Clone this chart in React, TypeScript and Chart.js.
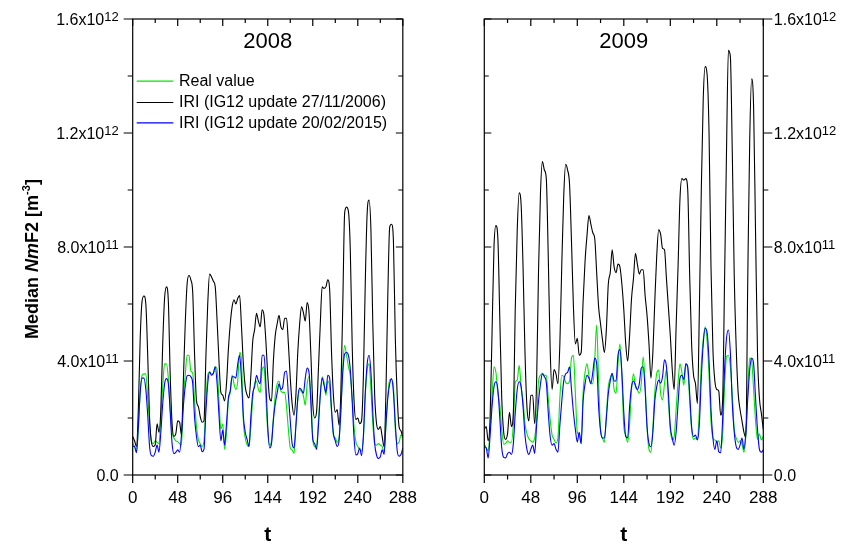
import React, { useEffect, useRef } from 'react';
import { Chart, registerables } from 'chart.js';

Chart.register(...registerables);

const FONT = '"Liberation Sans", Arial, Helvetica, sans-serif';

// hour index t (every 2 hours, 12 monthly median days x 24 h)
const T_HOURS = [
  0, 2, 4, 6, 8, 10, 12, 14, 16, 18, 20, 22,
  24, 26, 28, 30, 32, 34, 36, 38, 40, 42, 44, 46,
  48, 50, 52, 54, 56, 58, 60, 62, 64, 66, 68, 70,
  72, 74, 76, 78, 80, 82, 84, 86, 88, 90, 92, 94,
  96, 98, 100, 102, 104, 106, 108, 110, 112, 114, 116, 118,
  120, 122, 124, 126, 128, 130, 132, 134, 136, 138, 140, 142,
  144, 146, 148, 150, 152, 154, 156, 158, 160, 162, 164, 166,
  168, 170, 172, 174, 176, 178, 180, 182, 184, 186, 188, 190,
  192, 194, 196, 198, 200, 202, 204, 206, 208, 210, 212, 214,
  216, 218, 220, 222, 224, 226, 228, 230, 232, 234, 236, 238,
  240, 242, 244, 246, 248, 250, 252, 254, 256, 258, 260, 262,
  264, 266, 268, 270, 272, 274, 276, 278, 280, 282, 284, 286,
  288,
];

const X_TICKS = [0, 24, 48, 72, 96, 120, 144, 168, 192, 216, 240, 264, 288];
const X_LABEL_STEP = 48;
const Y_TICKS = [0, 2e11, 4e11, 6e11, 8e11, 1e12, 1.2e12, 1.4e12, 1.6e12];
const Y_LABEL_VALUES = [0, 4e11, 8e11, 1.2e12, 1.6e12];
const Y_LABEL_MANTISSA = ['0.0', '4.0x10', '8.0x10', '1.2x10', '1.6x10'];
const Y_LABEL_EXP = ['', '11', '11', '12', '12'];
const UNIT = 1e11; // series below are in units of 1e11 m^-3

const SERIES_NAMES = ['Real value', 'IRI (IG12 update 27/11/2006)', 'IRI (IG12 update 20/02/2015)'];
const SERIES_COLORS = ['#00e600', '#000000', '#0000ff'];
const SERIES_ORDER = [3, 2, 1];
const YEARS = ['2008', '2009'];

// ---- 2008 ----
const REAL_2008 = [
  1.1, 1.0, 0.8, 1.6, 2.9, 3.5, 3.55, 3.55, 2.7, 1.8, 1.17, 1.1,
  1.2, 1.15, 1.1, 2.0, 3.1, 3.9, 3.9, 3.4, 2.3, 1.5, 1.3, 1.2,
  1.17, 1.1, 1.05, 2.7, 3.5, 4.2, 4.2, 3.65, 3.57, 2.6, 1.7, 1.25,
  1.1, 1.0, 1.2, 2.5, 3.5, 3.6, 3.55, 3.55, 3.8, 3.7, 2.6, 1.6,
  1.8, 0.9, 1.5, 2.6, 2.9, 3.5, 3.2, 3.0, 3.3, 4.3, 4.0, 1.9,
  1.3, 1.05, 1.0, 1.7, 2.7, 3.2, 3.3, 3.0, 2.9, 3.7, 3.8, 2.7,
  1.5, 1.05, 1.2, 2.0, 2.8, 3.2, 3.3, 2.95, 2.9, 2.9, 2.4, 1.6,
  0.95, 0.88, 0.76, 1.8, 2.6, 3.0, 2.92, 2.78, 2.45, 3.2, 3.45, 2.8,
  1.3, 1.0, 1.0, 1.9, 2.8, 3.45, 3.25, 2.8, 3.3, 3.1, 2.2, 1.4,
  1.3, 1.15, 1.3, 2.3, 3.8, 4.55, 4.2, 3.8, 3.5, 2.7, 1.7, 1.15,
  1.0, 0.9, 0.85, 1.3, 2.8, 3.7, 3.9, 3.0, 1.8, 1.1, 1.05, 1.1,
  1.05, 1.0, 0.8, 1.7, 2.8, 3.35, 3.35, 3.1, 1.6, 1.1, 1.15, 1.4,
  1.35,
];
const IRI06_2008 = [
  1.35, 1.2, 1.0, 2.3, 4.8, 6.1, 6.28, 6.0, 4.2, 2.0, 1.15, 1.0,
  1.05, 1.8, 1.5, 2.3, 4.6, 6.2, 6.6, 6.1, 3.5, 1.8, 1.35, 1.45,
  1.9, 1.85, 1.4, 3.3, 5.3, 6.7, 7.0, 6.85, 6.4, 4.2, 2.6, 2.4,
  2.05, 1.85, 1.9, 4.1, 6.0, 7.05, 6.95, 6.8, 6.6, 5.4, 4.0, 2.9,
  2.8, 2.6, 3.2, 4.4, 5.3, 5.9, 6.15, 6.0, 6.2, 6.3, 5.2, 3.9,
  3.1, 2.8, 2.7, 3.5, 4.7, 5.1, 5.67, 5.4, 5.2, 5.8, 5.6, 4.7,
  3.5, 2.7, 2.6, 4.0, 4.9, 5.3, 5.6, 5.2, 5.1, 5.5, 5.5, 4.6,
  3.4, 2.5, 2.1, 2.8, 4.3, 5.3, 5.9, 5.7, 5.4, 6.05, 5.7, 4.2,
  2.5, 2.0, 2.2, 3.7, 5.3, 6.6, 6.55, 6.6, 6.85, 6.5, 4.3, 2.8,
  2.2, 2.3, 1.75, 3.0, 6.0, 9.2, 9.4, 9.25, 7.9, 4.6, 2.6, 1.95,
  2.0, 1.8, 1.9, 3.5, 6.8, 9.2, 9.65, 8.6, 5.3, 2.8, 1.8, 1.6,
  1.7, 1.35, 1.0, 2.9, 6.3, 8.7, 8.8, 8.2, 4.8, 2.8, 1.7, 1.55,
  1.3,
];
const IRI15_2008 = [
  1.0, 1.0, 0.78, 1.7, 2.9, 3.4, 3.4, 3.0, 2.1, 1.0, 0.68, 0.66,
  0.8, 1.05, 0.8, 1.5, 2.5, 3.2, 3.38, 3.2, 2.2, 1.1, 0.75, 0.8,
  0.88, 0.8, 1.4, 2.4, 3.1, 3.48, 3.5, 3.45, 3.2, 2.0, 1.35, 1.0,
  1.05, 0.82, 0.9, 2.2, 3.2, 3.62, 3.5, 3.57, 3.8, 3.2, 2.1, 1.2,
  1.58, 1.05, 1.8, 2.7, 2.95, 3.45, 3.45, 3.4, 3.9, 4.2, 3.33, 2.05,
  1.5, 1.25, 1.0, 2.05, 2.87, 3.1, 3.5, 3.3, 3.2, 4.2, 4.2, 3.2,
  1.7, 0.95, 1.1, 1.93, 2.5, 2.87, 3.2, 3.0, 3.1, 3.6, 3.65, 2.8,
  1.9, 1.1, 0.95, 1.7, 2.7, 3.05, 2.98, 2.87, 3.4, 3.75, 3.6, 2.5,
  1.25, 1.1, 0.9, 1.7, 2.8, 3.4, 3.15, 2.9, 3.5, 3.4, 2.3, 1.45,
  1.2, 1.0, 1.2, 2.3, 3.6, 4.25, 4.3, 4.2, 3.7, 2.6, 1.3, 0.7,
  0.75, 0.95, 0.68, 1.4, 2.9, 3.9, 4.2, 3.6, 2.2, 1.1, 0.7, 0.58,
  0.64, 0.88, 0.72, 1.8, 2.7, 3.2, 3.38, 2.9, 1.8, 0.85, 0.66, 0.72,
  0.95,
];

// ---- 2009 ----
const REAL_2009 = [
  1.1, 0.95, 0.85, 1.6, 2.7, 3.8, 3.6, 2.85, 2.45, 1.6, 1.08, 1.1,
  1.2, 1.15, 1.15, 1.8, 3.25, 3.33, 3.85, 3.1, 2.6, 1.8, 1.45, 1.27,
  1.2, 1.15, 1.3, 2.0, 3.3, 3.5, 3.57, 3.5, 3.5, 2.7, 1.95, 1.4,
  1.25, 1.12, 1.3, 2.7, 3.5, 3.45, 3.25, 3.2, 3.3, 4.1, 4.2, 2.87,
  1.5, 1.4, 1.1, 2.9, 3.6, 3.9, 3.5, 3.2, 3.2, 4.05, 5.26, 3.3,
  1.6, 1.3, 1.15, 2.1, 3.1, 3.4, 3.55, 3.0, 2.87, 3.9, 4.6, 3.5,
  1.7, 1.4, 1.15, 1.8, 3.0, 3.55, 3.1, 2.98, 2.87, 3.2, 4.15, 3.2,
  1.65, 0.9, 0.8, 1.65, 2.9, 3.57, 3.68, 2.87, 2.63, 3.2, 3.7, 2.6,
  1.6, 1.23, 1.35, 2.3, 3.25, 3.9, 3.6, 3.15, 3.9, 3.7, 2.6, 1.6,
  1.25, 1.3, 1.25, 2.3, 3.9, 4.75, 5.2, 4.7, 3.5, 1.9, 1.3, 1.23,
  1.15, 1.2, 0.95, 1.4, 3.1, 4.15, 4.2, 3.8, 2.8, 1.6, 1.3, 1.15,
  1.2, 1.1, 0.8, 1.4, 3.0, 4.1, 4.0, 3.0, 1.9, 1.25, 1.45, 1.23,
  1.35,
];
const IRI06_2009 = [
  1.6, 1.7, 1.2, 2.0, 5.0, 8.0, 8.75, 8.3, 5.5, 2.7, 1.5, 1.25,
  1.45, 2.2, 1.7, 2.2, 5.9, 8.6, 9.9, 9.5, 7.3, 4.3, 2.4, 1.9,
  2.8, 2.8, 1.8, 3.3, 7.2, 9.9, 11.0, 10.7, 10.4, 7.7, 4.4, 3.0,
  3.7, 3.55, 3.2, 4.6, 7.4, 9.8, 10.9, 10.7, 10.2, 8.2, 5.9, 4.6,
  4.8, 4.2, 4.3, 6.1, 7.5, 8.4, 9.1, 8.8, 8.5, 8.3, 7.1, 5.9,
  5.3, 4.75, 4.3, 5.1, 6.7, 7.1, 7.9, 7.3, 7.1, 7.4, 7.3, 6.7,
  5.8, 4.6, 4.0, 4.9, 6.2, 6.9, 7.78, 7.4, 7.05, 7.2, 7.2, 6.3,
  5.6, 4.6, 3.4, 4.3, 6.1, 7.7, 8.6, 8.45, 7.95, 7.9, 6.9, 5.9,
  4.9, 3.7, 3.0, 5.2, 7.3, 9.7, 10.4, 10.35, 10.4, 10.0, 7.0, 4.6,
  3.5, 3.2, 2.5, 5.8, 10.0, 13.2, 14.33, 14.05, 12.0, 7.3, 4.4, 3.3,
  3.0, 2.95, 2.1, 2.6, 6.8, 11.3, 14.9, 14.68, 11.3, 7.0, 4.5, 2.9,
  2.3, 1.9, 1.5, 1.3, 7.0, 11.8, 13.9, 12.9, 8.5, 4.3, 2.7, 2.16,
  1.6,
];
const IRI15_2009 = [
  1.0, 0.95, 0.6, 1.4, 2.4, 3.1, 3.27, 3.0, 2.0, 0.95, 0.62, 0.6,
  0.75, 0.8, 0.72, 1.1, 2.2, 3.0, 3.27, 3.1, 2.4, 1.4, 0.9, 0.72,
  0.9, 1.05, 0.76, 1.75, 2.6, 3.2, 3.55, 3.45, 3.25, 2.2, 1.35, 1.05,
  1.1, 0.9, 0.8, 1.75, 2.6, 3.3, 3.55, 3.6, 3.8, 3.0, 2.2, 1.6,
  1.15, 1.5, 1.1, 2.6, 3.2, 3.5, 3.4, 3.2, 3.6, 4.1, 3.9, 2.4,
  1.55, 1.3, 1.3, 2.0, 2.85, 3.3, 3.57, 3.3, 3.3, 4.2, 4.4, 3.6,
  2.2, 1.35, 1.3, 2.4, 3.1, 3.3, 3.15, 3.0, 3.2, 3.75, 3.8, 3.0,
  1.7, 1.1, 0.99, 1.5, 2.6, 3.1, 3.33, 3.22, 3.45, 4.04, 3.82, 2.9,
  1.7, 1.3, 1.05, 1.5, 2.5, 3.4, 3.5, 3.35, 3.9, 3.8, 2.87, 1.7,
  1.35, 1.4, 1.23, 1.8, 3.4, 4.6, 5.15, 5.0, 4.0, 2.3, 1.3, 0.9,
  1.2, 0.82, 0.78, 1.95, 3.7, 4.8, 5.09, 4.3, 2.5, 1.5, 1.0, 0.9,
  1.05, 1.3, 0.9, 1.5, 2.7, 3.7, 4.1, 3.9, 2.7, 1.6, 0.9, 0.8,
  0.88,
];

type Side = 'left' | 'right';

const decorPlugin = {
  id: 'panelDecor',
  afterDraw(chart: any, _args: any, opts: any) {
    const { ctx, chartArea } = chart;
    const { left, right, top, bottom } = chartArea;
    const xs = chart.scales.x;
    const ys = chart.scales.y;
    const side: Side = opts.side;
    ctx.save();
    ctx.strokeStyle = '#000';
    ctx.fillStyle = '#000';
    ctx.lineWidth = 1.2;
    ctx.strokeRect(left, top, right - left, bottom - top);

    ctx.beginPath();
    X_TICKS.forEach((v) => {
      const px = xs.getPixelForValue(v);
      const major = v % X_LABEL_STEP === 0;
      const out = major ? 8 : 4.5;
      const inn = major ? 7 : 4;
      ctx.moveTo(px, bottom);
      ctx.lineTo(px, bottom + out);
      ctx.moveTo(px, top);
      ctx.lineTo(px, top + inn);
    });
    Y_TICKS.forEach((v, i) => {
      const py = ys.getPixelForValue(v);
      const major = i % 2 === 0;
      const out = major ? 9 : 5;
      const inn = major ? 7 : 4.5;
      if (side === 'left') {
        ctx.moveTo(left - out, py);
        ctx.lineTo(left, py);
        ctx.moveTo(right - inn, py);
        ctx.lineTo(right, py);
      } else {
        ctx.moveTo(right, py);
        ctx.lineTo(right + out, py);
        ctx.moveTo(left, py);
        ctx.lineTo(left + inn, py);
      }
    });
    ctx.stroke();

    // y tick labels with superscript exponents
    const mainFont = `16px ${FONT}`;
    const supFont = `13px ${FONT}`;
    ctx.textAlign = 'left';
    ctx.textBaseline = 'alphabetic';
    Y_LABEL_VALUES.forEach((v, i) => {
      const py = ys.getPixelForValue(v);
      ctx.font = mainFont;
      const mw = ctx.measureText(Y_LABEL_MANTISSA[i]).width;
      ctx.font = supFont;
      const sw = Y_LABEL_EXP[i] ? ctx.measureText(Y_LABEL_EXP[i]).width : 0;
      const x0 = side === 'left' ? left - 14 - mw - sw : right + 10.5;
      ctx.font = mainFont;
      ctx.fillText(Y_LABEL_MANTISSA[i], x0, py + 5.7);
      if (Y_LABEL_EXP[i]) {
        ctx.font = supFont;
        ctx.fillText(Y_LABEL_EXP[i], x0 + mw, py + 1.5);
      }
    });

    // year title inside the frame
    ctx.font = `22px ${FONT}`;
    ctx.textAlign = 'center';
    ctx.fillText(opts.year, (left + right) / 2, 47.5);

    if (opts.legend) {
      const rows = [81.2, 102.5, 122.8];
      ctx.font = `16px ${FONT}`;
      ctx.textAlign = 'left';
      ctx.textBaseline = 'middle';
      SERIES_NAMES.forEach((name, k) => {
        ctx.strokeStyle = SERIES_COLORS[k];
        ctx.lineWidth = 1.2;
        ctx.beginPath();
        ctx.moveTo(left + 4, rows[k]);
        ctx.lineTo(left + 40.6, rows[k]);
        ctx.stroke();
        ctx.fillStyle = '#000';
        ctx.fillText(name, left + 46.3, rows[k] + 0.5);
      });
    }

    if (opts.yTitle) {
      const pieces = [
        { t: 'Median ', f: `bold 18px ${FONT}`, dy: 0 },
        { t: 'Nm', f: `italic bold 18px ${FONT}`, dy: 0 },
        { t: 'F2 [m', f: `bold 18px ${FONT}`, dy: 0 },
        { t: '-3', f: `bold 11px ${FONT}`, dy: -7.5 },
        { t: ']', f: `bold 18px ${FONT}`, dy: 0 },
      ];
      let total = 0;
      pieces.forEach((p) => {
        ctx.font = p.f;
        total += ctx.measureText(p.t).width;
      });
      ctx.save();
      ctx.translate(37.5, (top + bottom) / 2 + 12);
      ctx.rotate(-Math.PI / 2);
      ctx.textAlign = 'left';
      ctx.textBaseline = 'alphabetic';
      ctx.fillStyle = '#000';
      let x = -total / 2;
      pieces.forEach((p) => {
        ctx.font = p.f;
        ctx.fillText(p.t, x, p.dy);
        x += ctx.measureText(p.t).width;
      });
      ctx.restore();
    }
    ctx.restore();
  },
};

function buildChart(
  canvas: HTMLCanvasElement,
  year: string,
  series: number[][],
  side: Side,
  padding: { left: number; right: number; top: number; bottom: number },
) {
  return new Chart(canvas, {
    type: 'line',
    data: {
      datasets: SERIES_NAMES.map((name, k) => ({
        label: name,
        data: T_HOURS.map((t, i) => ({ x: t, y: series[k][i] * UNIT })),
        borderColor: SERIES_COLORS[k],
        backgroundColor: SERIES_COLORS[k],
        borderWidth: 1.1,
        pointRadius: 0,
        cubicInterpolationMode: 'monotone',
        fill: false,
        order: SERIES_ORDER[k],
      })),
    },
    options: {
      responsive: false,
      maintainAspectRatio: false,
      animation: false,
      events: [],
      layout: { padding },
      plugins: {
        legend: { display: false },
        tooltip: { enabled: false },
        title: { display: false },
        panelDecor: { side, year, legend: side === 'left', yTitle: side === 'left' },
      } as any,
      scales: {
        x: {
          type: 'linear',
          min: 0,
          max: 288,
          ticks: {
            stepSize: X_LABEL_STEP,
            autoSkip: false,
            maxRotation: 0,
            color: '#000',
            padding: 13,
            font: { family: FONT, size: 17 },
          },
          grid: { display: false, drawTicks: false },
          border: { display: false },
          title: {
            display: true,
            text: 't',
            color: '#000',
            font: { family: FONT, size: 21, weight: 'bold' },
            padding: { top: 0, bottom: 0 },
          },
          afterFit: (s: any) => {
            s.height = 73;
          },
        },
        y: {
          type: 'linear',
          min: 0,
          max: 1.6e12,
          display: false,
        },
      },
    },
    plugins: [decorPlugin as any],
  } as any);
}

export default function App() {
  const leftRef = useRef<HTMLCanvasElement>(null);
  const rightRef = useRef<HTMLCanvasElement>(null);

  useEffect(() => {
    const a = buildChart(leftRef.current!, YEARS[0], [REAL_2008, IRI06_2008, IRI15_2008], 'left', {
      left: 132.7,
      right: 18.3,
      top: 19,
      bottom: 0,
    });
    const b = buildChart(rightRef.current!, YEARS[1], [REAL_2009, IRI06_2009, IRI15_2009], 'right', {
      left: 54.3,
      right: 79.7,
      top: 19,
      bottom: 0,
    });
    return () => {
      a.destroy();
      b.destroy();
    };
  }, []);

  return (
    <div style={{ position: 'fixed', left: 0, top: 0, width: 843, height: 548, background: '#fff' }}>
      <canvas ref={leftRef} width={430} height={548} style={{ position: 'absolute', left: 0, top: 0 }} />
      <canvas ref={rightRef} width={413} height={548} style={{ position: 'absolute', left: 430, top: 0 }} />
    </div>
  );
}
